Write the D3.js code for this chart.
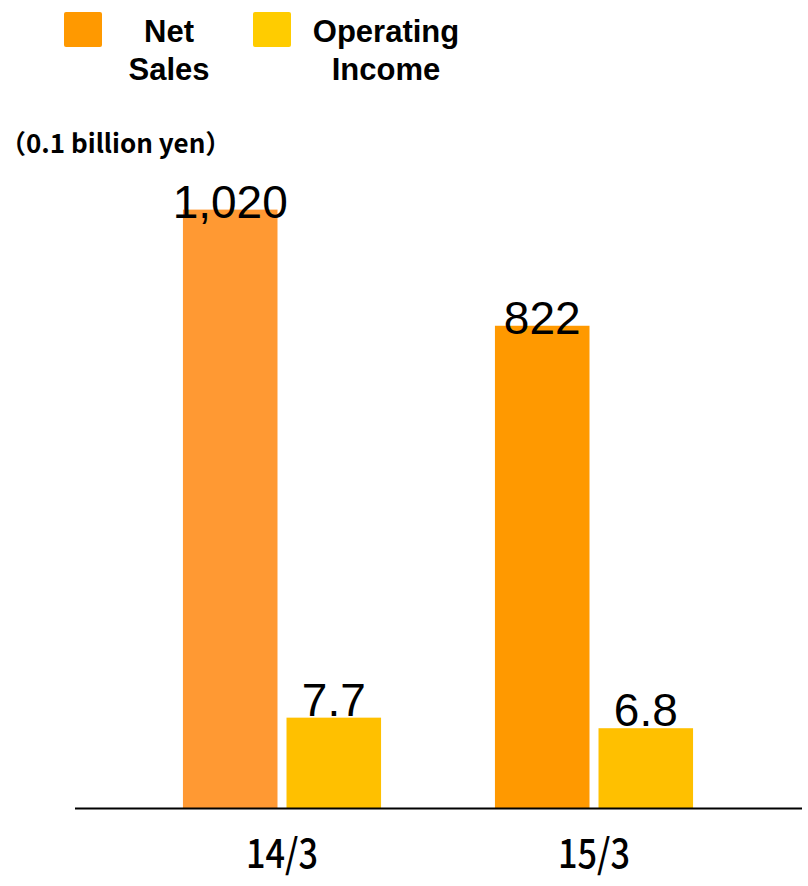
<!DOCTYPE html>
<html>
<head>
<meta charset="utf-8">
<script src="https://cdn.jsdelivr.net/npm/d3@7/dist/d3.min.js"></script>
<style>
  html, body { margin: 0; padding: 0; background: #fff; }
  svg { display: block; }
</style>
</head>
<body>
<div id="chart"></div>
<script>
// Fiscal years (March year-end) and the two reported series
const categories = ["14/3", "15/3"];
const seriesNames = ["Net Sales", "Operating Income"];
const netSales = [1020, 822];          // 0.1 billion yen
const operatingIncome = [7.7, 6.8];    // 0.1 billion yen
const netSalesLabels = ["1,020", "822"];
const operatingIncomeLabels = ["7.7", "6.8"];
const unitLabel = "（0.1 billion yen）";
const legendLines = [["Net", "Sales"], ["Operating", "Income"]];

const width = 808, height = 886;
const baseY = 808, topY = 104;

const svg = d3.select("#chart").append("svg")
  .attr("width", width).attr("height", height);

// Category and series placement
const x0 = d3.scaleBand().domain(categories)
  .range([126, 750]).paddingInner(0.365).paddingOuter(0.1825);
const x1 = d3.scaleBand().domain(seriesNames)
  .range([0, x0.bandwidth()]).paddingInner(0.087);

// Net sales and operating income use separate value axes
const ySales = d3.scaleLinear().domain([0, 1200]).range([baseY, topY]);
const yIncome = d3.scaleLinear().domain([0, 60]).range([baseY, topY]);

const salesColors = ["#FF9933", "#FF9900"];
const incomeColor = "#FFC000";

const rows = categories.map((c, i) => ({
  cat: c,
  sales: netSales[i], salesLabel: netSalesLabels[i],
  income: operatingIncome[i], incomeLabel: operatingIncomeLabels[i],
  i
}));

const g = svg.append("g");

// Net sales bars
g.selectAll("rect.sales").data(rows).join("rect")
  .attr("class", "sales")
  .attr("x", d => x0(d.cat) + x1("Net Sales"))
  .attr("width", x1.bandwidth())
  .attr("y", d => ySales(d.sales))
  .attr("height", d => baseY - ySales(d.sales))
  .attr("fill", d => salesColors[d.i]);

// Operating income bars
g.selectAll("rect.income").data(rows).join("rect")
  .attr("class", "income")
  .attr("x", d => x0(d.cat) + x1("Operating Income"))
  .attr("width", x1.bandwidth())
  .attr("y", d => yIncome(d.income))
  .attr("height", d => baseY - yIncome(d.income))
  .attr("fill", incomeColor);

// Value labels sit across the top of each bar
const valueFont = "'Liberation Sans', Arial, sans-serif";
g.selectAll("text.salesLabel").data(rows).join("text")
  .attr("class", "salesLabel")
  .attr("x", d => x0(d.cat) + x1("Net Sales") + x1.bandwidth() / 2)
  .attr("y", d => ySales(d.sales) + 8)
  .attr("text-anchor", "middle")
  .attr("font-family", valueFont)
  .attr("font-size", 46)
  .attr("fill", "#000")
  .text(d => d.salesLabel);

g.selectAll("text.incomeLabel").data(rows).join("text")
  .attr("class", "incomeLabel")
  .attr("x", d => x0(d.cat) + x1("Operating Income") + x1.bandwidth() / 2)
  .attr("y", d => yIncome(d.income) - 2)
  .attr("text-anchor", "middle")
  .attr("font-family", valueFont)
  .attr("font-size", 46)
  .attr("fill", "#000")
  .text(d => d.incomeLabel);

// Baseline
svg.append("line")
  .attr("x1", 75).attr("x2", 802)
  .attr("y1", baseY + 0.5).attr("y2", baseY + 0.5)
  .attr("stroke", "#000").attr("stroke-width", 2);

// Category labels
svg.selectAll("text.cat").data(categories).join("text")
  .attr("class", "cat")
  .attr("x", d => x0(d) + x0.bandwidth() / 2)
  .attr("y", 868)
  .attr("text-anchor", "middle")
  .attr("font-family", "'Noto Sans CJK JP', sans-serif")
  .attr("font-weight", 500)
  .attr("font-size", 40)
  .attr("textLength", 72)
  .attr("lengthAdjust", "spacingAndGlyphs")
  .attr("fill", "#000")
  .text(d => d);

// Unit note
svg.append("text")
  .attr("x", 0).attr("y", 153)
  .attr("font-family", "'Noto Sans CJK JP', sans-serif")
  .attr("font-weight", "bold")
  .attr("font-size", 26)
  .attr("fill", "#000")
  .text(unitLabel);

// Legend
const legendSwatch = [{ x: 64, color: "#FF9900" }, { x: 253, color: "#FFCC00" }];
const legendTextX = [169, 386];
const legend = svg.selectAll("g.legend").data(seriesNames).join("g").attr("class", "legend");
legend.append("rect")
  .attr("x", (d, i) => legendSwatch[i].x).attr("y", 12)
  .attr("width", 38).attr("height", 35).attr("rx", 2)
  .attr("fill", (d, i) => legendSwatch[i].color);
legend.each(function (d, i) {
  d3.select(this).selectAll("text").data(legendLines[i]).join("text")
    .attr("x", legendTextX[i])
    .attr("y", (t, j) => 42 + j * 38)
    .attr("text-anchor", "middle")
    .attr("font-family", "'Liberation Sans', Arial, sans-serif")
    .attr("font-weight", "bold")
    .attr("font-size", 31)
    .attr("fill", "#000")
    .text(t => t);
});
</script>
</body>
</html>
